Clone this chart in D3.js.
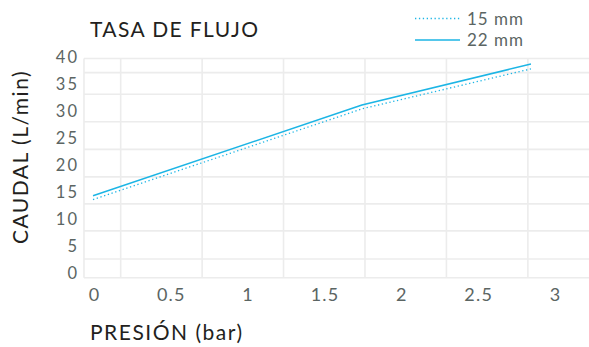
<!DOCTYPE html>
<html>
<head>
<meta charset="utf-8">
<script src="https://cdn.jsdelivr.net/npm/d3@7"></script>
<style>
  html, body { margin: 0; padding: 0; background: #ffffff; }
  svg { display: block; }
  text { font-family: Lato, "Open Sans", sans-serif; }
</style>
</head>
<body>
<svg id="chart" width="589" height="347"></svg>
<script>
// ---- data ----
const title = "TASA DE FLUJO";
const xTitle = "PRESIÓN (bar)";
const yTitle = "CAUDAL (L/min)";
const xTicks = [0, 0.5, 1, 1.5, 2, 2.5, 3];
const xTickLabels = ["0", "0.5", "1", "1.5", "2", "2.5", "3"];
const yTicks = [0, 5, 10, 15, 20, 25, 30, 35, 40];
const presion = [0, 1.75, 2.85];
const seriesNames = ["15 mm", "22 mm"];
const caudal15 = [13.6, 30.4, 37.8];
const caudal22 = [14.3, 31.1, 38.7];
// grid line positions (in axis units, as drawn in the source)
const gridX = [0.18, 0.71, 1.24, 1.77, 2.30, 2.83];
const gridY = [2.6, 7.8, 12.8, 17.8, 22.9, 28.0, 33.1, 37.1];

// ---- layout ----
const plot = { left: 84, top: 58.5, right: 589, bottom: 277.7 };
const lineColor = "#1cb5e5";
const gridColor = "#ececec";
const font = "Lato, sans-serif";
const tickColor = "#5b6563";
const titleColor = "#231f20";

const svg = d3.select("#chart");

const x = d3.scaleLinear().domain([0, 3]).range([93, 554]);
const y = d3.scaleLinear().domain([0, 40]).range([273, 57]);

// grid
const g = svg.append("g");
g.selectAll("line.gx").data(gridX).join("line")
  .attr("x1", d => x(d)).attr("x2", d => x(d))
  .attr("y1", plot.top).attr("y2", plot.bottom)
  .attr("stroke", gridColor).attr("stroke-width", 1.6);
g.selectAll("line.gy").data(gridY).join("line")
  .attr("x1", plot.left).attr("x2", plot.right)
  .attr("y1", d => y(d)).attr("y2", d => y(d))
  .attr("stroke", gridColor).attr("stroke-width", 1.6);
// frame (top, bottom, left)
[[plot.left, plot.top, plot.right, plot.top],
 [plot.left, plot.bottom, plot.right, plot.bottom],
 [plot.left, plot.top, plot.left, plot.bottom]].forEach(c => {
  g.append("line").attr("x1", c[0]).attr("y1", c[1]).attr("x2", c[2]).attr("y2", c[3])
    .attr("stroke", gridColor).attr("stroke-width", 1.6);
});

// axes labels via d3 axes
const yAxis = d3.axisLeft(y).tickValues(yTicks).tickSize(0).tickPadding(0);
const ya = svg.append("g").attr("transform", "translate(79,0)").call(yAxis);
ya.select(".domain").remove();
ya.selectAll("text")
  .attr("dy", "0.36em")
  .attr("fill", tickColor)
  .style("font-size", "16.5px")
  .style("letter-spacing", "2px")
  .style("font-family", font);

const xAxis = d3.axisBottom(x).tickValues(xTicks).tickFormat((d, i) => xTickLabels[i]).tickSize(0).tickPadding(0);
const xa = svg.append("g").attr("transform", "translate(1,295)").call(xAxis);
xa.select(".domain").remove();
xa.selectAll("text")
  .attr("y", 0)
  .attr("dy", "0.36em")
  .attr("fill", tickColor)
  .style("font-size", "18px")
  .style("letter-spacing", "1.2px")
  .style("font-family", font);

// lines
const line = d3.line().x((d, i) => x(presion[i])).y(d => y(d));
svg.append("path").datum(caudal15)
  .attr("d", line).attr("fill", "none")
  .attr("stroke", lineColor).attr("stroke-width", 1.3)
  .attr("stroke-dasharray", "1.3 2.6");
svg.append("path").datum(caudal22)
  .attr("d", line).attr("fill", "none")
  .attr("stroke", lineColor).attr("stroke-width", 1.5);

// titles
svg.append("text").attr("x", 90).attr("y", 37)
  .attr("fill", titleColor).style("font-size", "21px")
  .style("letter-spacing", "1.4px").text(title);
svg.append("text").attr("x", 90).attr("y", 340)
  .attr("fill", titleColor).style("font-size", "21px")
  .style("letter-spacing", "1.5px").text(xTitle);
svg.append("text")
  .attr("transform", "translate(28,157) rotate(-90)")
  .attr("text-anchor", "middle")
  .attr("fill", titleColor).style("font-size", "21px")
  .style("letter-spacing", "1.5px").text(yTitle);

// legend
const legend = svg.append("g");
const legY = [18.5, 40];
seriesNames.forEach((name, i) => {
  legend.append("line")
    .attr("x1", 415).attr("x2", 460).attr("y1", legY[i]).attr("y2", legY[i])
    .attr("stroke", lineColor)
    .attr("stroke-width", i === 0 ? 1.3 : 1.5)
    .attr("stroke-dasharray", i === 0 ? "1.3 2.6" : null);
  legend.append("text")
    .attr("x", 467).attr("y", legY[i]).attr("dy", "0.36em")
    .attr("fill", tickColor).style("font-size", "17px")
    .style("letter-spacing", "1px")
    .text(name);
});
</script>
</body>
</html>
